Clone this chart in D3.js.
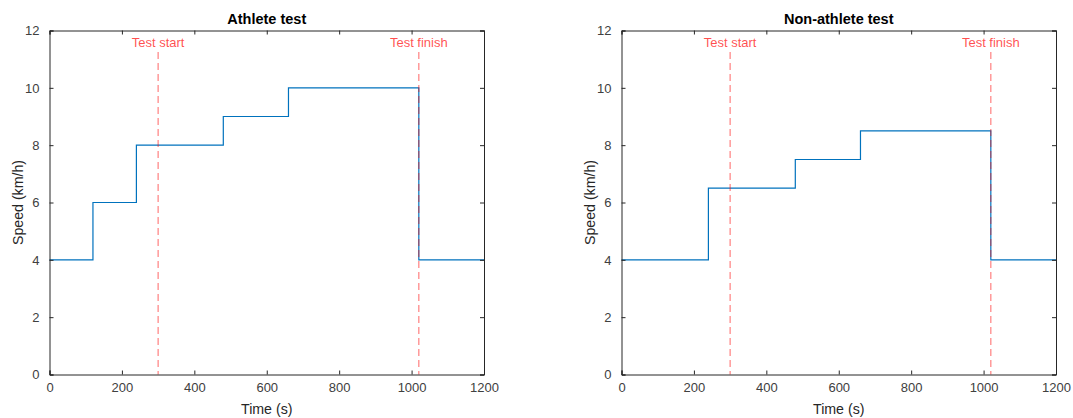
<!DOCTYPE html>
<html>
<head>
<meta charset="utf-8">
<script src="https://cdn.jsdelivr.net/npm/d3@7"></script>
<style>
  body { margin: 0; background: #fff; }
  svg text { font-family: "Liberation Sans", Arial, sans-serif; }
</style>
</head>
<body>
<div id="page"></div>
<script>
// step profiles: speed holds from time[i] until time[i+1]
var athleteTimes = [0, 120, 240, 480, 660, 1020, 1200];
var athleteSpeeds = [4, 6, 8, 9, 10, 4, 4];
var nonAthleteTimes = [0, 240, 480, 660, 1020, 1200];
var nonAthleteSpeeds = [4, 6.5, 7.5, 8.5, 4, 4];

var markerTimes = [300, 1020];
var markerLabels = ["Test start", "Test finish"];

var xTicks = [0, 200, 400, 600, 800, 1000, 1200];
var yTicks = [0, 2, 4, 6, 8, 10, 12];

var panels = [
  {title: "Athlete test", times: athleteTimes, speeds: athleteSpeeds, left: 49.5},
  {title: "Non-athlete test", times: nonAthleteTimes, speeds: nonAthleteSpeeds, left: 621.5}
];

var svgW = 1073, svgH = 418,
    plotW = 434.5, plotTop = 30.5, plotBottom = 374.5,
    axisColor = "#262626", tickTextColor = "#404040";

var svg = d3.select("#page").append("svg")
    .attr("width", svgW)
    .attr("height", svgH);

panels.forEach(function(p) {
  var x = d3.scaleLinear().domain([0, 1200]).range([p.left, p.left + plotW]),
      y = d3.scaleLinear().domain([0, 12]).range([plotBottom, plotTop]);

  var g = svg.append("g");

  var pts = p.times.map(function(t, i) { return [t, p.speeds[i]]; });
  var line = d3.line()
      .x(function(d) { return x(d[0]); })
      .y(function(d) { return y(d[1]); })
      .curve(d3.curveStepAfter);

  g.append("path")
      .datum(pts)
      .attr("d", line)
      .attr("fill", "none")
      .attr("stroke", "#0072BD")
      .attr("stroke-width", 1.2);

  // test start/finish markers
  markerTimes.forEach(function(t, i) {
    g.append("line")
        .attr("x1", x(t)).attr("x2", x(t))
        .attr("y1", y(11.25)).attr("y2", plotBottom)
        .attr("stroke", "#ff0000")
        .attr("stroke-opacity", 0.5)
        .attr("stroke-width", 1.2)
        .attr("stroke-dasharray", "7,4");
    g.append("text")
        .attr("x", x(t)).attr("y", 46.5)
        .attr("text-anchor", "middle")
        .attr("font-size", 13)
        .attr("fill", "#ff0000")
        .attr("fill-opacity", 0.7)
        .text(markerLabels[i]);
  });

  // axes with inward ticks on all four sides
  var fmt = d3.format("d");
  var xb = g.append("g").attr("transform", "translate(0," + plotBottom + ")")
      .call(d3.axisBottom(x).tickValues(xTicks).tickSize(-4).tickPadding(8).tickFormat(fmt));
  var xt = g.append("g").attr("transform", "translate(0," + plotTop + ")")
      .call(d3.axisTop(x).tickValues(xTicks).tickSize(-4).tickFormat(""));
  var yl = g.append("g").attr("transform", "translate(" + p.left + ",0)")
      .call(d3.axisLeft(y).tickValues(yTicks).tickSize(-4).tickPadding(10).tickFormat(fmt));
  var yr = g.append("g").attr("transform", "translate(" + (p.left + plotW) + ",0)")
      .call(d3.axisRight(y).tickValues(yTicks).tickSize(-4).tickFormat(""));

  [xb, xt, yl, yr].forEach(function(a) {
    a.attr("font-size", 13);
    a.select(".domain").attr("stroke", axisColor).attr("stroke-width", 1);
    a.selectAll(".tick line").attr("stroke", axisColor);
    a.selectAll(".tick text")
        .attr("fill", tickTextColor)
        .style("font-family", "'Liberation Sans', Arial, sans-serif");
  });

  g.append("text")
      .attr("x", p.left + plotW / 2).attr("y", 23.5)
      .attr("text-anchor", "middle")
      .attr("font-size", 14.5)
      .attr("font-weight", "bold")
      .attr("fill", "#000")
      .text(p.title);

  g.append("text")
      .attr("x", p.left + plotW / 2).attr("y", 414)
      .attr("text-anchor", "middle")
      .attr("font-size", 14.2)
      .attr("fill", axisColor)
      .text("Time (s)");

  g.append("text")
      .attr("transform", "translate(" + (p.left - 27) + "," + ((plotTop + plotBottom) / 2) + ") rotate(-90)")
      .attr("text-anchor", "middle")
      .attr("font-size", 14.2)
      .attr("fill", axisColor)
      .text("Speed (km/h)");
});
</script>
</body>
</html>
